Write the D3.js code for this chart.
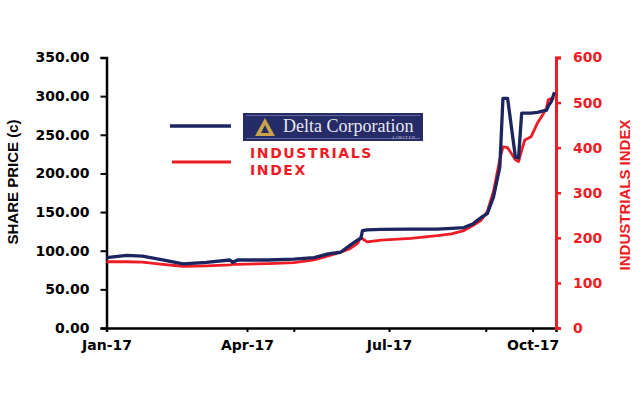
<!DOCTYPE html>
<html><head><meta charset="utf-8">
<script src="https://cdn.jsdelivr.net/npm/d3@7"></script>
<style>body{margin:0;background:#fff}svg{display:block}</style>
</head><body>
<svg id="c" width="640" height="400"></svg>
<script>
const dates = ["2017-01-01","2017-01-14","2017-01-24","2017-02-06","2017-02-19","2017-03-06","2017-03-21","2017-03-23","2017-03-26","2017-04-15","2017-05-01","2017-05-14","2017-05-23","2017-05-31","2017-06-06","2017-06-11","2017-06-13","2017-06-14","2017-06-17","2017-06-26","2017-07-15","2017-08-01","2017-08-10","2017-08-18","2017-08-24","2017-08-29","2017-09-02","2017-09-06","2017-09-10","2017-09-12","2017-09-15","2017-09-20","2017-09-22","2017-09-24","2017-09-26","2017-09-30","2017-10-04","2017-10-08","2017-10-10","2017-10-11","2017-10-13","2017-10-15"];
const sharePrice = [91,94,93,88,83,85,88,85,88,88,89,91,96,98,107,114,116,126,127,127.5,128,128,129,130,135,143,148,170,208,297,297,221,220,278,278,278,279,281,282,287,293,305];
const industrialsIndex = [147,147,146,141,137,138,140,141,141,143,145,151,160,168,176,188,202,198,191,195,199,205,209,216,228,239,258,304,374,402,400,373,369,394,417,424,454,476,489,506,509,510];
const leftTicks = [0,50,100,150,200,250,300,350];
const rightTicks = [0,100,200,300,400,500,600];
const xTickDates = ["2017-01-01","2017-04-01","2017-05-01","2017-07-01","2017-09-01","2017-10-01"];
const xLabelDates = ["2017-01-01","2017-04-01","2017-07-01","2017-10-01"];
const seriesNames = ["Delta Corporation","INDUSTRIALS INDEX"];

const parse = d3.utcParse("%Y-%m-%d");
const fmtX = d3.utcFormat("%b-%y");
const svg = d3.select("#c");
const L = 106.5, R = 556, T = 57.5, B = 328;
const navy = "#1d2561", red = "#ee1c25";

const x = d3.scaleUtc().domain([parse("2017-01-01"), parse("2017-10-16")]).range([L, R]);
const yL = d3.scaleLinear().domain([0,350]).range([B,T]);
const yR = d3.scaleLinear().domain([0,600]).range([B,T]);

const font = "'DejaVu Sans', sans-serif";

// x axis
const labelSet = new Set(xLabelDates);
const gx = svg.append("g").attr("transform",`translate(0,${B})`)
  .call(d3.axisBottom(x).tickValues(xTickDates.map(parse)).tickSize(4).tickPadding(8)
    .tickFormat(d => labelSet.has(d3.utcFormat("%Y-%m-%d")(d)) ? fmtX(d) : ""));
gx.select(".domain").attr("stroke","#000").attr("stroke-width",2.5);
gx.selectAll(".tick line").attr("stroke","#000").attr("stroke-width",2);
gx.selectAll("text").attr("font-family",font).attr("font-weight","bold").attr("font-size",14).attr("fill","#000");

// left axis
const gl = svg.append("g").attr("transform",`translate(${L},0)`)
  .call(d3.axisLeft(yL).tickValues(leftTicks).tickSize(6).tickPadding(11).tickFormat(d3.format(".2f")));
gl.select(".domain").attr("stroke","#000").attr("stroke-width",2.5);
gl.selectAll(".tick line").attr("stroke","#000").attr("stroke-width",2);
gl.selectAll("text").attr("font-family",font).attr("font-weight","bold").attr("font-size",14).attr("fill","#000");

// right axis
const gr = svg.append("g").attr("transform",`translate(${R},0)`)
  .call(d3.axisRight(yR).tickValues(rightTicks).tickSize(5).tickPadding(12));
gr.select(".domain").attr("stroke",red).attr("stroke-width",3);
gr.selectAll(".tick line").attr("stroke",red).attr("stroke-width",2.5);
gr.selectAll("text").attr("font-family",font).attr("font-weight","bold").attr("font-size",14).attr("fill",red);

// axis titles
svg.append("text").attr("transform","translate(18,182) rotate(-90)").attr("text-anchor","middle")
  .attr("font-family","'Liberation Sans', Arial, sans-serif").attr("font-weight","bold").attr("font-size",15).attr("fill","#000")
  .text("SHARE PRICE (c)");
svg.append("text").attr("transform","translate(630,195) rotate(-90)").attr("text-anchor","middle")
  .attr("font-family","'Liberation Sans', Arial, sans-serif").attr("font-weight","bold").attr("font-size",15).attr("fill",red)
  .text("INDUSTRIALS INDEX");

// lines
const pts = dates.map((d,i)=>({d:parse(d), p:sharePrice[i], v:industrialsIndex[i]}));
svg.append("path").datum(pts).attr("fill","none").attr("stroke",red).attr("stroke-width",2.8).attr("stroke-linejoin","round")
  .attr("d", d3.line().x(d=>x(d.d)).y(d=>yR(d.v)));
svg.append("path").datum(pts).attr("fill","none").attr("stroke",navy).attr("stroke-width",3.3).attr("stroke-linejoin","round")
  .attr("d", d3.line().x(d=>x(d.d)).y(d=>yL(d.p)));

// legend
const lg = svg.append("g");
lg.append("line").attr("x1",170).attr("x2",231).attr("y1",126).attr("y2",126).attr("stroke",navy).attr("stroke-width",3.3);
lg.append("line").attr("x1",172).attr("x2",231).attr("y1",162).attr("y2",162).attr("stroke",red).attr("stroke-width",3);
// logo box
lg.append("rect").attr("x",243).attr("y",113).attr("width",180).attr("height",28).attr("fill","#262c68");
lg.append("line").attr("x1",246).attr("x2",420).attr("y1",115.5).attr("y2",115.5).attr("stroke","#8a8fb8").attr("stroke-width",0.6);
lg.append("line").attr("x1",246).attr("x2",420).attr("y1",138.5).attr("y2",138.5).attr("stroke","#8a8fb8").attr("stroke-width",0.6);
lg.append("path").attr("d","M255,136 L265,118 L275,136 Z").attr("fill","#c9a24a");
lg.append("path").attr("d","M261,133 L265,125 L269,133 Z").attr("fill","#262c68");
lg.append("text").attr("x",283).attr("y",132).attr("font-family","'Liberation Serif', serif").attr("font-size",18)
  .attr("fill","#e8e8ee").text(seriesNames[0]);
lg.append("text").attr("x",416).attr("y",139).attr("text-anchor","end").attr("font-family","'Liberation Serif', serif")
  .attr("font-size",4).attr("letter-spacing",1).attr("fill","#c8c8d8").text("LIMITED");
const words = seriesNames[1].split(" ");
lg.append("text").attr("x",250).attr("y",158).attr("font-family",font).attr("font-weight","bold").attr("font-size",14)
  .attr("letter-spacing",1.6).attr("fill",red).text(words[0]);
lg.append("text").attr("x",250).attr("y",175).attr("font-family",font).attr("font-weight","bold").attr("font-size",14)
  .attr("letter-spacing",1.6).attr("fill",red).text(words[1]);
</script>
</body></html>
